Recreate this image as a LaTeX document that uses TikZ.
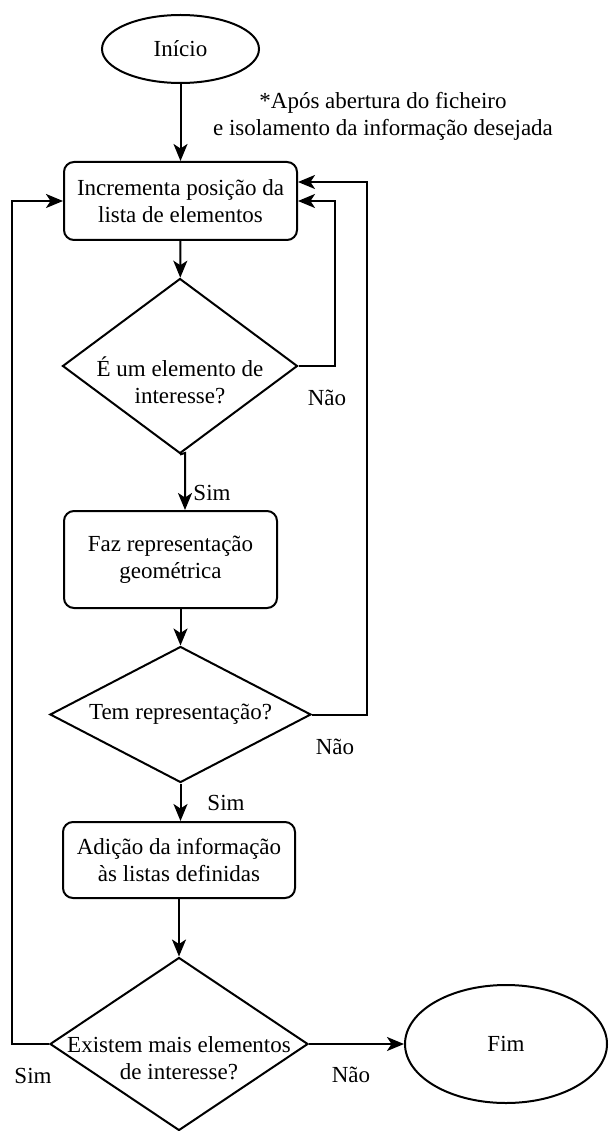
\documentclass[tikz,border=0pt]{standalone}
\usepackage{fontspec}
\setmainfont{Liberation Serif}
\usetikzlibrary{shapes.geometric,arrows.meta,calc}

\begin{document}
\begin{tikzpicture}[
  x=1pt, y=-1pt,
  every node/.style={font=\fontsize{23}{27}\selectfont},
  line/.style={line width=2pt, line join=miter},
  arr/.style={line, -{Stealth[length=17pt,width=14pt,inset=4.5pt]}},
  stepbox/.style={draw, line, rounded corners=10pt, inner sep=0pt, align=center},
  decision/.style={draw, line, diamond, inner sep=0pt},
  terminal/.style={draw, line, ellipse, inner sep=0pt},
  txt/.style={align=center, inner sep=0pt}
]
\useasboundingbox (0,0) rectangle (609,1131);

% start / end
\node[terminal, minimum width=157pt, minimum height=68pt] (ini) at (180.5,49) {Início};
\node[terminal, minimum width=202pt, minimum height=118pt] (fim) at (506,1044) {Fim};

% process steps
\node[stepbox, minimum width=233pt, minimum height=78pt] (b1) at (180.5,201) {Incrementa posição da\\lista de elementos};
\node[stepbox, minimum width=213pt, minimum height=97pt] (b2) at (170.5,559.5) {Faz representação\\geométrica};
\node[stepbox, minimum width=232pt, minimum height=76pt] (b3) at (179,860) {Adição da informação\\às listas definidas};

% decisions
\node[decision, minimum width=235pt, minimum height=175pt] (d1) at (180,366) {};
\node[txt] (d1t) at (180,380) {É um elemento de\\interesse?};
\node[decision, minimum width=261pt, minimum height=136pt] (d2) at (180.5,714.5) {};
\node[txt] (d2t) at (180.5,714.5) {Tem representação?};
\node[decision, minimum width=258pt, minimum height=173pt] (d3) at (179,1044) {};
\node[txt] (d3t) at (179,1058) {Existem mais elementos\\de interesse?};

% note beside the first arrow
\node[txt] (note) at (383,116) {*Após abertura do ficheiro\\e isolamento da informação desejada};

% bend points of the routed connectors
\coordinate (j1) at (185,453);
\coordinate (r1) at (335,366);
\coordinate (r2) at (367,714.5);
\coordinate (l3) at (12,1044);

% main flow
\draw[arr] (ini) -- (b1);
\draw[arr] (b1) -- (d1);
\draw[arr] (d1.south) -- (j1) -- (j1 |- b2.north);
\draw[arr] (d2.north |- b2.south) -- (d2.north);
\draw[arr] (d2.south) -- (d2.south |- b3.north);
\draw[arr] (b3.south) -- (b3.south |- d3.north);
\draw[arr] (d3.east) -- (fim.west);

% loops back to the first step
\draw[arr] (d1.east) -- (r1) |- (b1.east);
\draw[arr] (d2.east) -- (r2) |- ($(b1.east)+(0,-19)$);
\draw[arr] (d3.west) -- (l3) |- (b1.west);

% branch labels
\node (n1) at (327,398) {Não};
\node (n2) at (335,747) {Não};
\node (n3) at (351,1075) {Não};
\node (s1) at (212,493) {Sim};
\node (s2) at (226,803) {Sim};
\node (s3) at (33,1076) {Sim};
\end{tikzpicture}
\end{document}
